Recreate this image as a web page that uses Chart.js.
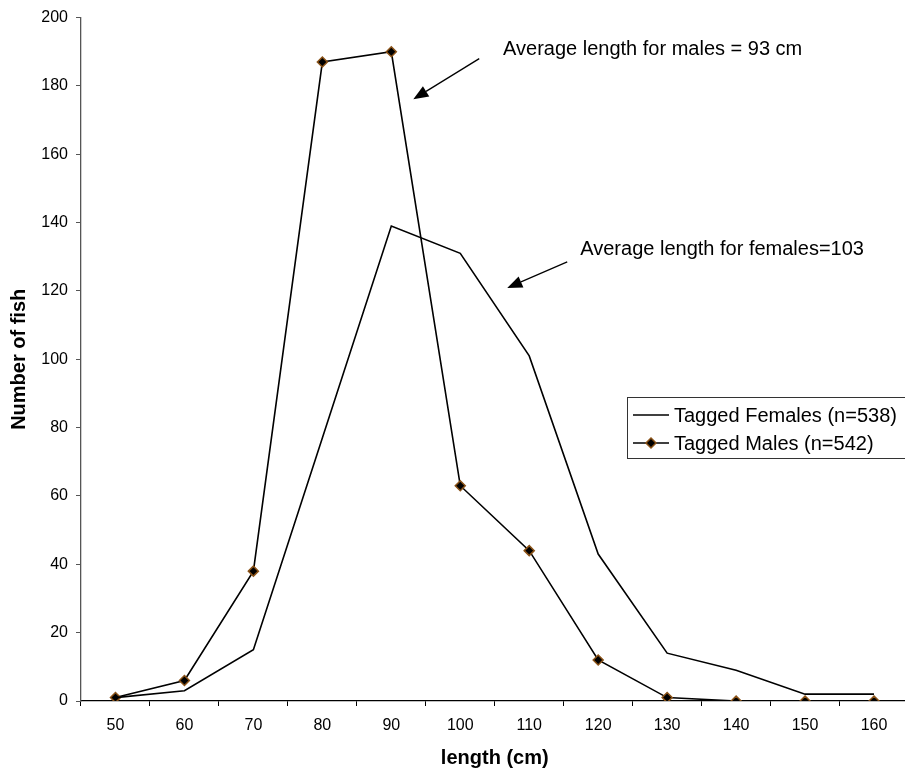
<!DOCTYPE html>
<html>
<head>
<meta charset="utf-8">
<script src="https://cdn.jsdelivr.net/npm/chart.js@4.4.1/dist/chart.umd.min.js"></script>
<style>
   html, body { margin: 0; padding: 0; background: #fff; overflow: hidden; }
   canvas { display: block; }
</style>
</head>
<body>
<canvas id="myChart" width="915" height="771"></canvas>
<script>
const lengths = ['50', '60', '70', '80', '90', '100', '110', '120', '130', '140', '150', '160'];
const females = [1, 3, 15, 77, 139, 131, 101, 43, 14, 9, 2, 2];
const males = [1, 6, 38, 187, 190, 63, 44, 12, 1, 0, 0, 0];
const yTicks = [0, 20, 40, 60, 80, 100, 120, 140, 160, 180, 200];

// notes placed in data units (x = category index, y = number of fish)
const notes = [
   {text: 'Average length for males = 93 cm', x: 5.62, y: 190.7, from: [5.275, 188.0], to: [4.319, 176.1]},
   {text: 'Average length for females=103', x: 6.74, y: 132.0, from: [6.551, 128.5], to: [5.681, 120.9]},
];

const FONT = '"Liberation Sans", Arial, sans-serif';

const notePlugin = {
   id: 'notes',
   afterDatasetsDraw(chart) {
      const ctx = chart.ctx, xs = chart.scales.x, ys = chart.scales.y;
      ctx.save();
      ctx.fillStyle = '#000';
      ctx.strokeStyle = '#000';
      ctx.font = `20px ${FONT}`;
      ctx.textBaseline = 'middle';
      ctx.textAlign = 'left';
      notes.forEach(n => {
         ctx.fillText(n.text, xs.getPixelForValue(n.x), ys.getPixelForValue(n.y));
         const x1 = xs.getPixelForValue(n.from[0]), y1 = ys.getPixelForValue(n.from[1]);
         const x2 = xs.getPixelForValue(n.to[0]), y2 = ys.getPixelForValue(n.to[1]);
         const a = Math.atan2(y2 - y1, x2 - x1);
         const hl = 15, hw = 6;
         const bx = x2 - hl * Math.cos(a), by = y2 - hl * Math.sin(a);
         ctx.lineWidth = 1.3;
         ctx.beginPath();
         ctx.moveTo(x1, y1);
         ctx.lineTo(bx, by);
         ctx.stroke();
         ctx.beginPath();
         ctx.moveTo(x2, y2);
         ctx.lineTo(bx + hw * Math.sin(a), by - hw * Math.cos(a));
         ctx.lineTo(bx - hw * Math.sin(a), by + hw * Math.cos(a));
         ctx.closePath();
         ctx.fill();
      });

      // legend box
      const box = {left: 627, top: 397, right: 925, bottom: 458};
      ctx.lineWidth = 1;
      ctx.strokeStyle = '#333';
      ctx.strokeRect(box.left + 0.5, box.top + 0.5, box.right - box.left, box.bottom - box.top);
      const rows = [415, 443];
      chart.data.datasets.forEach((ds, i) => {
         const y = rows[i];
         ctx.strokeStyle = ds.borderColor;
         ctx.lineWidth = 1.6;
         ctx.beginPath();
         ctx.moveTo(633, y);
         ctx.lineTo(669, y);
         ctx.stroke();
         if (ds.pointRadius > 0) {
            const r = ds.pointRadius;
            ctx.beginPath();
            ctx.moveTo(651, y - r);
            ctx.lineTo(651 + r, y);
            ctx.lineTo(651, y + r);
            ctx.lineTo(651 - r, y);
            ctx.closePath();
            ctx.fillStyle = ds.pointBackgroundColor;
            ctx.fill();
            ctx.strokeStyle = ds.pointBorderColor;
            ctx.lineWidth = ds.pointBorderWidth;
            ctx.stroke();
         }
         ctx.fillStyle = '#000';
         ctx.font = `20px ${FONT}`;
         ctx.fillText(ds.label, 674, y + 1);
      });
      ctx.restore();
   }
};

const ctx = document.getElementById('myChart').getContext('2d');
new Chart(ctx, {
   type: 'line',
   data: {
      labels: lengths,
      datasets: [{
         label: 'Tagged Females (n=538)',
         data: females,
         borderColor: '#000',
         borderWidth: 1.6,
         pointRadius: 0,
         pointHoverRadius: 0,
         tension: 0,
      }, {
         label: 'Tagged Males (n=542)',
         data: males,
         borderColor: '#000',
         borderWidth: 1.6,
         pointStyle: 'rectRot',
         pointRadius: 5,
         pointHoverRadius: 5,
         pointBackgroundColor: '#000',
         pointBorderColor: '#8a5217',
         pointBorderWidth: 1.5,
         tension: 0,
      }]
   },
   options: {
      responsive: false,
      animation: false,
      events: [],
      layout: {padding: {top: 16, left: 0, right: 0, bottom: 0}},
      plugins: {legend: {display: false}, tooltip: {enabled: false}},
      scales: {
         x: {
            type: 'category',
            offset: true,
            afterFit: s => { s.height = 70; },
            grid: {display: true, drawOnChartArea: false, drawTicks: true, tickLength: 5, color: '#000', offset: true},
            border: {display: true, color: '#000', width: 1.3},
            ticks: {color: '#000', font: {family: FONT, size: 16}, padding: 10, maxRotation: 0, autoSkip: false},
            title: {display: true, text: 'length (cm)', color: '#000', font: {family: FONT, size: 20, weight: 'bold'}, padding: {top: 0, bottom: 1}}
         },
         y: {
            min: 0,
            max: 200,
            afterFit: s => { s.width = 81; },
            afterBuildTicks: s => { s.ticks = yTicks.map(v => ({value: v})); },
            grid: {display: true, drawOnChartArea: false, drawTicks: true, tickLength: 5, color: '#555'},
            border: {display: true, color: '#555', width: 1.3},
            ticks: {color: '#000', font: {family: FONT, size: 16}, padding: 8},
            title: {display: true, text: 'Number of fish', color: '#000', font: {family: FONT, size: 20, weight: 'bold'}, padding: {top: 7, bottom: 0}}
         }
      }
   },
   plugins: [notePlugin]
});
</script>
</body>
</html>
